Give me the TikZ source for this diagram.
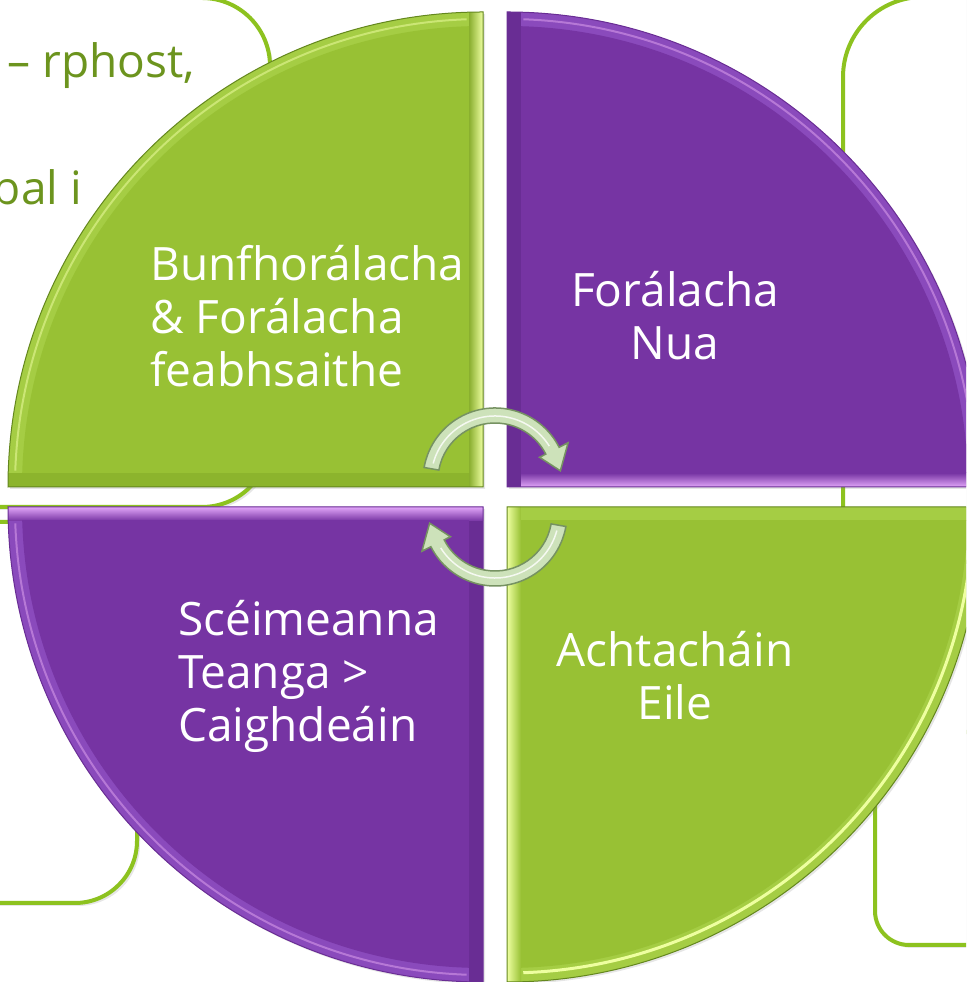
\documentclass[tikz,border=0pt]{standalone}
\usepackage{fontspec}
\setmainfont{Open Sans}
\usetikzlibrary{shadows}

\definecolor{greenface}{RGB}{152,193,52}
\definecolor{greenrim}{RGB}{165,205,68}
\definecolor{greendark}{RGB}{100,135,30}
\definecolor{greenshade}{RGB}{140,180,45}
\definecolor{greenlight}{RGB}{238,255,160}
\definecolor{purpleface}{RGB}{118,52,163}
\definecolor{purplerim}{RGB}{138,74,188}
\definecolor{purpledark}{RGB}{105,45,148}
\definecolor{purplelight}{RGB}{225,165,248}
\definecolor{boxline}{RGB}{141,194,31}
\definecolor{textolive}{RGB}{108,148,30}
\definecolor{arrowfill}{RGB}{205,226,186}
\definecolor{arrowline}{RGB}{118,146,98}

\tikzset{
  notebox/.style={draw=boxline, line width=4pt, fill=white,
    drop shadow={opacity=.2, shadow xshift=3pt, shadow yshift=-3pt}},
  quadshadow/.style={drop shadow={opacity=.2, shadow xshift=2pt, shadow yshift=-2pt}},
  quadlabel/.style={text=white, inner sep=0pt, font=\fontsize{46}{53}\selectfont},
  notetext/.style={text=textolive, inner sep=0pt, font=\fontsize{46}{53}\selectfont},
  arrowbody/.style={fill=arrowfill, draw=arrowline, line width=1.5pt},
  cyclearrow/.pic={
    \filldraw[arrowbody] (170:57) arc[start angle=170, end angle=27, radius=57]
      -- (27:50) -- (8:66) -- (27:82) -- (27:72)
      arc[start angle=27, end angle=170, radius=72] -- cycle;
    \draw[white!80!arrowfill, line width=1.5pt] (165:64) arc[start angle=165, end angle=32, radius=64];
  }
}

\begin{document}
\begin{tikzpicture}[x=1pt, y=1pt]
    \useasboundingbox (0,0) rectangle (966,982);
    \clip (0,0) rectangle (966,982);

    % Note boxes behind the circle
    \draw[notebox, rounded corners=68] (-90,475) rectangle (270,984);
    \draw[notebox, rounded corners=80] (843,250) rectangle (1060,985);
    \draw[notebox, rounded corners=62] (-90,79) rectangle (137,460);
    \draw[notebox, rounded corners=34] (875,37) rectangle (1060,420);
    \node[notetext, anchor=base east] (rphost) at (195,904) {– rphost,};
    \node[notetext, anchor=base east] (bali) at (82,777) {bal i};

    % Top left quadrant
    \fill[greenrim, quadshadow] (483,495) -- (8,495) arc[start angle=180, end angle=90, radius=475] -- cycle;
    \begin{scope}
        \clip (483,495) -- (8,495) arc[start angle=180, end angle=90, radius=475] -- cycle;
        \shade[left color=greenface!90!black, right color=greenlight] (469,495) rectangle (483,970);
        \fill[greenshade] (8,495) rectangle (469,509);
        \clip (469,509) rectangle (0,982);
        \fill[greenface] (483,495) circle[radius=461];
        \draw[greenlight!60!greenface, line width=2pt] ([shift={(178:468)}]483,495) arc[start angle=178, end angle=92, radius=468];
    \end{scope}
    \draw[greendark, line width=1pt] (483,495) -- (8,495) arc[start angle=180, end angle=90, radius=475] -- cycle;

    % Top right quadrant
    \fill[purplerim, quadshadow] (507,495) -- (507,970) arc[start angle=90, end angle=0, radius=475] -- cycle;
    \begin{scope}
        \clip (507,495) -- (507,970) arc[start angle=90, end angle=0, radius=475] -- cycle;
        \fill[purpledark] (507,495) rectangle (521,970);
        \shade[top color=purpleface, bottom color=purplelight] (521,509) rectangle (982,495);
        \clip (521,509) rectangle (982,982);
        \fill[purpleface] (507,495) circle[radius=461];
        \draw[purplelight!60!purpleface, line width=2pt] ([shift={(88:468)}]507,495) arc[start angle=88, end angle=2, radius=468];
    \end{scope}
    \draw[purpledark, line width=1pt] (507,495) -- (507,970) arc[start angle=90, end angle=0, radius=475] -- cycle;

    % Bottom left quadrant
    \fill[purplerim, quadshadow] (483,475) -- (8,475) arc[start angle=180, end angle=270, radius=475] -- cycle;
    \begin{scope}
        \clip (483,475) -- (8,475) arc[start angle=180, end angle=270, radius=475] -- cycle;
        \fill[purpledark] (469,0) rectangle (483,475);
        \shade[top color=purplelight, bottom color=purpleface] (8,475) rectangle (483,461);
        \clip (469,461) rectangle (0,0);
        \fill[purpleface] (483,475) circle[radius=461];
        \draw[purplelight!60!purpleface, line width=2pt] ([shift={(182:468)}]483,475) arc[start angle=182, end angle=268, radius=468];
    \end{scope}
    \draw[purpledark, line width=1pt] (483,475) -- (8,475) arc[start angle=180, end angle=270, radius=475] -- cycle;

    % Bottom right quadrant
    \fill[greenrim, quadshadow] (507,475) -- (982,475) arc[start angle=0, end angle=-90, radius=475] -- cycle;
    \begin{scope}
        \clip (507,475) -- (982,475) arc[start angle=0, end angle=-90, radius=475] -- cycle;
        \shade[left color=greenlight, right color=greenface] (507,0) rectangle (521,475);
        \fill[greenrim] (521,461) rectangle (982,475);
        \clip (521,461) rectangle (982,0);
        \fill[greenface] (507,475) circle[radius=461];
        \draw[greenlight, line width=3pt] ([shift={(-2:466)}]507,475) arc[start angle=-2, end angle=-88, radius=466];
    \end{scope}
    \draw[greendark, line width=1pt] (507,475) -- (982,475) arc[start angle=0, end angle=-90, radius=475] -- cycle;

    % Labels
    \node[quadlabel, anchor=west, align=left] (basic) at (150,666) {Bunfhorálacha\\\& Forálacha\\feabhsaithe};
    \node[quadlabel, align=center] (new) at (675,666) {Forálacha\\Nua};
    \node[quadlabel, anchor=west, align=left] (schemes) at (178,306) {Scéimeanna\\Teanga >\\Caighdeáin};
    \node[quadlabel, align=center] (acts) at (675,306) {Achtacháin\\Eile};

    % Cycle arrows
    \pic (toparrow) at (495,502) {cyclearrow};
    \pic[rotate=180] (botarrow) at (495,468) {cyclearrow};
\end{tikzpicture}
\end{document}
